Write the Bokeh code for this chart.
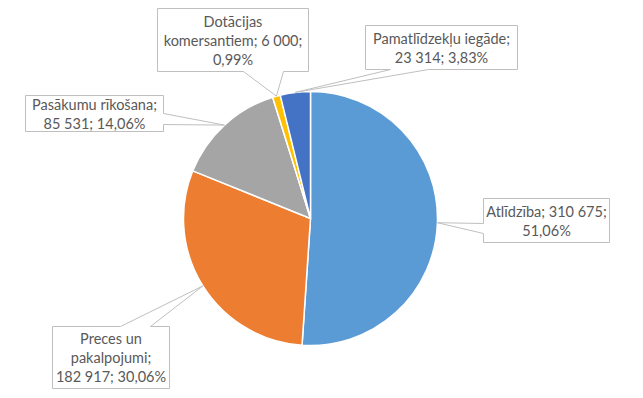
import math
import textwrap
from bokeh.plotting import figure
from bokeh.models import Range1d, ColumnDataSource
from bokeh.core.properties import value
from bokeh.embed import file_html
from bokeh.resources import INLINE

# ---- data ----
categories = ["Atlīdzība", "Preces un pakalpojumi", "Pasākumu rīkošana",
              "Dotācijas komersantiem", "Pamatlīdzekļu iegāde"]
amounts = [310675, 182917, 85531, 6000, 23314]
percents = [51.06, 30.06, 14.06, 0.99, 3.83]
colors = ["#5B9BD5", "#ED7D31", "#A5A5A5", "#FFC000", "#4472C4"]

# ---- layout (screen px) ----
W, H = 635, 390
CX, CY, R = 310, 218, 127
# callout boxes: left, top, right, bottom ; pointer side ; pointer base
boxes = [(483, 198, 609, 242), (52, 326, 169, 388), (25, 95, 163, 131),
         (157, 8, 308, 71), (365, 25, 517, 69)]
sides = ["left", "top", "right", "bottom", "bottom"]
bases = [(223, 233), (120, 150), (113, 124), (243, 283), (390, 428)]
wraps = [19, 16, 18, 20, 21]
LINE_H = 19
FONT = "Lato"
FONT_SIZE = "14.5px"


def dx(sx):
    return sx


def dy(sy):
    return H - sy


p = figure(width=W, height=H, output_backend="svg", toolbar_location=None,
           x_range=Range1d(0, W), y_range=Range1d(0, H), min_border=0)
p.axis.visible = False
p.grid.visible = False
p.outline_line_color = None
p.background_fill_color = "white"

total = sum(amounts)
starts, ends, mids = [], [], []
cum = 0.0
for a in amounts:
    a0 = math.pi / 2 - 2 * math.pi * cum / total
    cum += a
    a1 = math.pi / 2 - 2 * math.pi * cum / total
    starts.append(a1)
    ends.append(a0)
    mids.append((a0 + a1) / 2)

src = ColumnDataSource(dict(x=[dx(CX)] * len(amounts), y=[dy(CY)] * len(amounts),
                            start=starts, end=ends, color=colors))
p.wedge(x="x", y="y", radius=R, start_angle="start", end_angle="end",
        direction="anticlock", fill_color="color", line_color="white",
        line_width=1.5, source=src)

# callouts
for i, cat in enumerate(categories):
    l, t, r, b = boxes[i]
    tipx = CX + R * math.cos(mids[i])
    tipy = CY - R * math.sin(mids[i])
    b0, b1 = bases[i]
    s = sides[i]
    if s == "left":
        pts = [(l, t), (r, t), (r, b), (l, b), (l, b1), (tipx, tipy), (l, b0)]
    elif s == "right":
        pts = [(l, t), (r, t), (r, b0), (tipx, tipy), (r, b1), (r, b), (l, b)]
    elif s == "top":
        pts = [(l, t), (b0, t), (tipx, tipy), (b1, t), (r, t), (r, b), (l, b)]
    else:
        pts = [(l, t), (r, t), (r, b), (b1, b), (tipx, tipy), (b0, b), (l, b)]
    p.patch([dx(x) for x, _ in pts], [dy(y) for _, y in pts],
            fill_color="white", line_color="#BFBFBF", line_width=1)

    vs = f"{amounts[i]:,}".replace(",", "\u00a0")
    ps = f"{percents[i]:.2f}".replace(".", ",")
    full = f"{cat}; {vs}; {ps}%"
    lines = textwrap.wrap(full, wraps[i])
    lines = [ln.replace("\u00a0", " ") for ln in lines]
    n = len(lines)
    mx = (l + r) / 2
    my = (t + b) / 2
    ys = [dy(my + (k - (n - 1) / 2) * LINE_H) for k in range(n)]
    p.text(x=[dx(mx)] * n, y=ys, text=lines, text_align="center",
           text_baseline="middle", text_color="#595959",
           text_font=value(FONT), text_font_size=FONT_SIZE)

open("out.html", "w").write(file_html(p, INLINE))
